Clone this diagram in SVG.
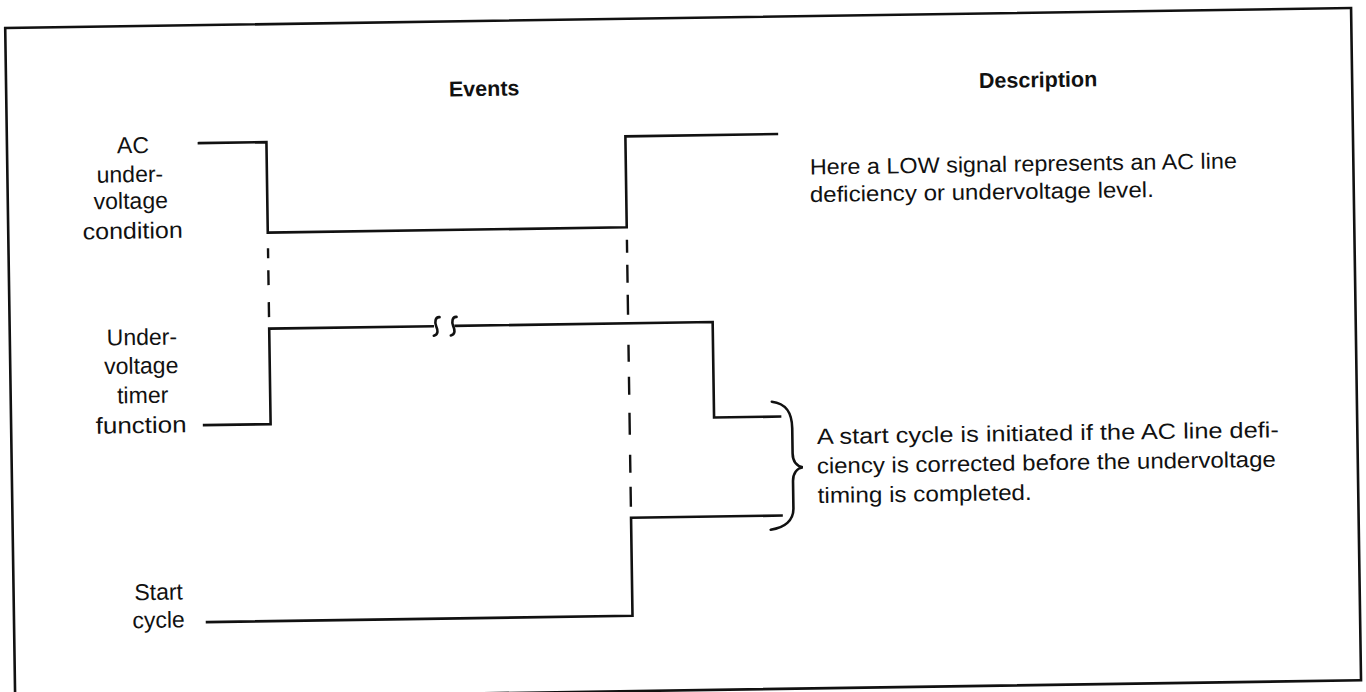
<svg xmlns="http://www.w3.org/2000/svg" width="1366" height="692" viewBox="0 0 1366 692">
<style>
.ln{fill:none;stroke:#111;stroke-width:2.6;stroke-linejoin:miter;stroke-linecap:square}
.ds{fill:none;stroke:#111;stroke-width:2.4;stroke-linecap:butt}
.br{fill:none;stroke:#111;stroke-width:2.6;stroke-linecap:round}
text{font-family:"Liberation Sans",Arial,Helvetica,sans-serif;fill:#111}
.lb{font-size:23px;text-anchor:middle}
.hd{font-size:21.5px;font-weight:bold;text-anchor:middle}
.tx{font-size:22px}
</style>
<rect width="1366" height="692" fill="#fff"/>
<g transform="rotate(-0.85 683 346)">
  <rect id="frame" class="ln" x="10" y="18" width="1346" height="672.3"/>
  <g id="headings">
    <text class="hd" x="488" y="93">Events</text>
    <text class="hd" x="1042" y="92.5">Description</text>
  </g>
  <g id="ac-undervoltage">
    <text class="lb" x="136" y="145">AC</text>
    <text class="lb" x="132.5" y="174">under-</text>
    <text class="lb" x="133" y="200.5">voltage</text>
    <text class="lb" x="134.5" y="230.5" textLength="100" lengthAdjust="spacingAndGlyphs">condition</text>
    <path class="ln" d="M202,136 H269.5 V226.5 H628.5 V135.5 H780"/>
  </g>
  <g id="undervoltage-timer">
    <text class="lb" x="142" y="337">Under-</text>
    <text class="lb" x="141" y="365.5">voltage</text>
    <text class="lb" x="142" y="395">timer</text>
    <text class="lb" x="140" y="425" textLength="91" lengthAdjust="spacingAndGlyphs">function</text>
    <path class="ln" d="M203,418 H269.5 V322.5 H433"/>
    <path class="ln" d="M456,322.5 H713 V418 H779"/>
    <path class="br" d="M440,313.5 C435.5,313 435,319 436.5,322.5 C438,326 439,331 434,332"/>
    <path class="br" d="M457,313.5 C452.5,313 452,319 453.5,322.5 C455,326 456,331 451,332"/>
  </g>
  <g id="start-cycle">
    <text class="lb" x="155" y="592">Start</text>
    <text class="lb" x="154.5" y="620">cycle</text>
    <path class="ln" d="M203,615 H628.5 V517 H779"/>
  </g>
  <g id="desc-low">
    <text class="tx" x="812.5" y="176.5" textLength="427" lengthAdjust="spacingAndGlyphs">Here a LOW signal represents an AC line</text>
    <text class="tx" x="812" y="204" textLength="344" lengthAdjust="spacingAndGlyphs">deficiency or undervoltage level.</text>
  </g>
  <g id="desc-start">
    <text class="tx" x="815.5" y="446" textLength="462" lengthAdjust="spacingAndGlyphs">A start cycle is initiated if the AC line defi-</text>
    <text class="tx" x="815" y="475.5" textLength="459" lengthAdjust="spacingAndGlyphs">ciency is corrected before the undervoltage</text>
    <text class="tx" x="815.5" y="505" textLength="214" lengthAdjust="spacingAndGlyphs">timing is completed.</text>
  </g>
  <g id="connectors">
    <path class="ds" d="M269.5,242 V252 M269.5,264 V279 M269.5,296 V311"/>
    <path class="ds" d="M628.5,239 V252 M628.5,264 V282 M628.5,294 V314 M628.5,344 V361 M628.5,376 V394 M628.5,412 V434 M628.5,454 V472 M628.5,486 V506"/>
    <path class="br" d="M771,403 C786,405 791,415 791,430 L791,455 C791,463 795,468 801,469 C795,470 791,475 791,483 L791,510 C791,522 782,529 768,531"/>
  </g>
</g>
</svg>
